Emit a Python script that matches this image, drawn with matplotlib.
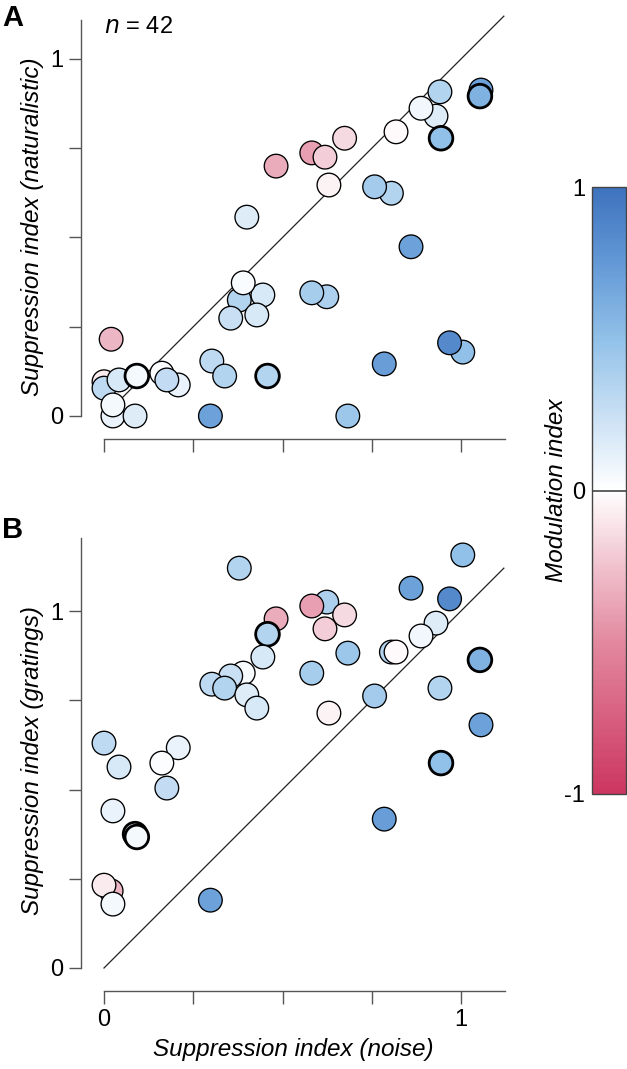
import numpy as np
import matplotlib
matplotlib.use("Agg")
import matplotlib.pyplot as plt
from matplotlib.colors import LinearSegmentedColormap, Normalize
from matplotlib.cm import ScalarMappable

plt.rcParams['font.family'] = ['Liberation Sans', 'DejaVu Sans']

# suppression index (noise), shared by both panels
si_noise = [0.020, 0.000, 0.379, 0.482, 0.458, 0.445, 0.390, 0.355, 0.302, 0.338,
            0.400, 0.428, 0.000, 0.208, 0.042, 0.162, 0.176, 0.025, 0.025, 0.087,
            0.092, 0.298, 1.005, 0.860, 0.968, 0.624, 0.582, 0.674, 0.619, 0.930,
            0.888, 0.683, 0.805, 0.818, 0.582, 1.056, 1.053, 0.758, 0.941, 0.630,
            0.944, 0.785]
# modulation index (colour)
mod_index = [-0.30, -0.08, 0.35, -0.35, 0.35, 0.18, 0.03, 0.25, 0.30, 0.35,
             0.15, 0.18, 0.30, 0.10, 0.18, 0.02, 0.28, 0.10, 0.05, 0.15,
             0.05, 0.70, 0.50, 0.70, 0.85, 0.38, -0.40, -0.15, -0.20, 0.15,
             0.07, 0.45, 0.35, -0.02, 0.40, 0.70, 0.60, 0.42, 0.35, -0.05,
             0.50, 0.72]
# suppression index (naturalistic)
si_nat = [0.215, 0.096, 0.325, 0.700, 0.112, 0.339, 0.373, 0.274, 0.154, 0.112,
          0.557, 0.283, 0.078, 0.087, 0.101, 0.120, 0.101, 0.000, 0.031, 0.000,
          0.112, 0.000, 0.179, 0.474, 0.205, 0.334, 0.737, 0.778, 0.725, 0.840,
          0.862, 0.000, 0.624, 0.796, 0.345, 0.913, 0.896, 0.642, 0.908, 0.647,
          0.778, 0.146]
# suppression index (gratings)
si_grat = [0.216, 0.232, 1.120, 0.978, 0.935, 0.871, 0.826, 0.818, 0.795, 0.784,
           0.765, 0.728, 0.630, 0.617, 0.563, 0.574, 0.504, 0.440, 0.179, 0.375,
           0.367, 0.190, 1.157, 1.064, 1.034, 1.025, 1.014, 0.989, 0.950, 0.966,
           0.930, 0.882, 0.885, 0.885, 0.826, 0.681, 0.863, 0.762, 0.784, 0.714,
           0.574, 0.417]
# example cells drawn with heavy outline
bold_nat = [4, 20, 36, 40]
bold_grat = [4, 19, 20, 36, 40]

cmap = LinearSegmentedColormap.from_list(
    'mi', [(0.0, '#CC3660'), (0.25, '#E2899F'), (0.375, '#F0C2CE'),
           (0.5, '#FFFFFF'),
           (0.625, '#C9E0F4'), (0.75, '#92C1E8'), (0.875, '#6399D6'),
           (1.0, '#3E73BE')])
norm = Normalize(-1, 1)

fig = plt.figure(figsize=(6.27, 10.69), dpi=100)

W, H = 627, 1069
unit = 357.0
x0_px = 104


def make_ax(y0_px, ytop):
    left = x0_px - 0.07 * unit
    right = x0_px + 1.13 * unit
    bottom = y0_px + 0.07 * unit
    top = y0_px - ytop * unit
    ax = fig.add_axes([left / W, 1 - bottom / H, (right - left) / W, (bottom - top) / H])
    ax.set_xlim(-0.07, 1.13)
    ax.set_ylim(-0.07, ytop)
    return ax


def draw_panel(ax, yvals, bold, spine_top):
    ax.plot([0, 1.12], [0, 1.12], color='#222222', lw=0.9, zorder=1)
    x = np.array(si_noise)
    y = np.array(yvals)
    c = np.array(mod_index)
    lw = np.full(len(x), 0.95)
    lw[bold] = 2.0
    ax.scatter(x, y, c=c, cmap=cmap, norm=norm, s=290, edgecolors='black',
               linewidths=lw, zorder=2, clip_on=False)
    for s in ['top', 'right']:
        ax.spines[s].set_visible(False)
    ax.spines['left'].set_position(('data', -0.064))
    ax.spines['bottom'].set_position(('data', -0.064))
    ax.spines['left'].set_bounds(0, spine_top)
    ax.spines['bottom'].set_bounds(0, 1.123)
    for s in ['left', 'bottom']:
        ax.spines[s].set_color('#555555')
        ax.spines[s].set_linewidth(1.0)
    ticks = [0, 0.25, 0.5, 0.75, 1]
    labels = ['0', '', '', '', '1']
    ax.set_xticks(ticks)
    ax.set_yticks(ticks)
    ax.set_xticklabels(labels)
    ax.set_yticklabels(labels)
    ax.tick_params(direction='out', length=9, width=1.0, color='#555555',
                   labelsize=17, pad=4)


axA = make_ax(416, 1.13)
draw_panel(axA, si_nat, bold_nat, 1.109)
axA.set_xticklabels([])
axA.set_ylabel('Suppression index (naturalistic)', fontsize=17.5, style='italic', labelpad=4)
axA.text(0.0, 1.09, r'$n$ = 42', fontsize=17, ha='left', va='center')

axB = make_ax(968, 1.23)
draw_panel(axB, si_grat, bold_grat, 1.204)
axB.set_ylabel('Suppression index (gratings)', fontsize=17.5, style='italic', labelpad=4)
axB.set_xlabel('Suppression index (noise)', fontsize=17.5, style='italic', labelpad=5)

fig.text(2 / W, 1 - 18 / H, 'A', fontsize=21, fontweight='bold', ha='left', va='center')
fig.text(2 / W, 1 - 530 / H, 'B', fontsize=21, fontweight='bold', ha='left', va='center')

cax = fig.add_axes([592 / W, 1 - 794 / H, 34 / W, 607 / H])
sm = ScalarMappable(norm=norm, cmap=cmap)
cb = fig.colorbar(sm, cax=cax, ticks=[-1, 0, 1])
cb.ax.yaxis.set_ticks_position('left')
cb.ax.yaxis.set_label_position('left')
cb.ax.set_yticklabels(['-1', '0', '1'])
cb.ax.tick_params(length=0, labelsize=17, pad=5)
cb.outline.set_edgecolor('#444444')
cb.outline.set_linewidth(1.0)
cax.axhline(0, color='#444444', lw=1.2)
cb.set_label('Modulation index', fontsize=17.5, style='italic', labelpad=-3)

fig.savefig('out.png', dpi=100)
